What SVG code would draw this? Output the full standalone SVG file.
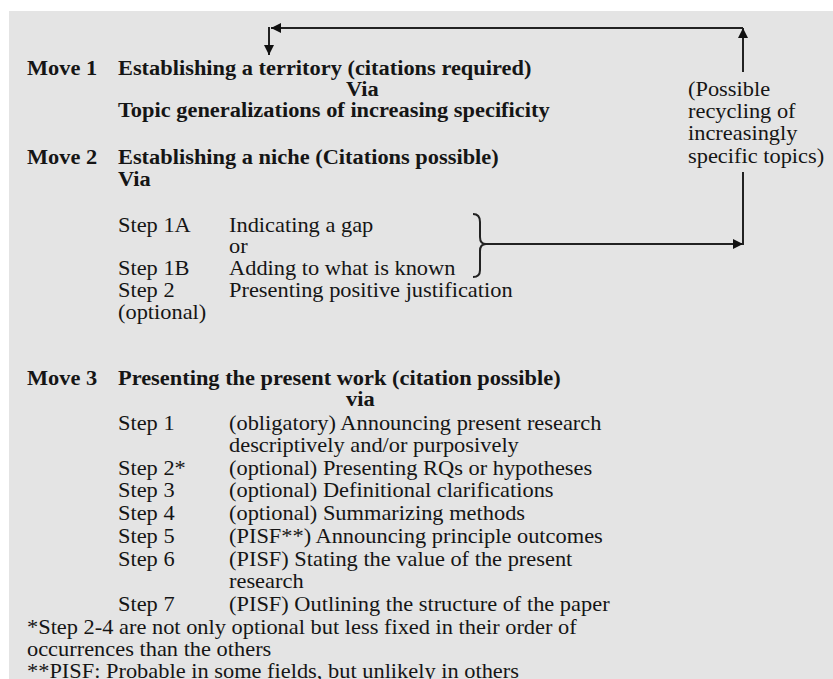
<svg xmlns="http://www.w3.org/2000/svg" width="833" height="679" viewBox="0 0 833 679">
<defs>
<style>
text{font-family:"Liberation Serif","Times New Roman",serif;font-size:21px;fill:#151515}
.b{font-weight:bold}
.ln{stroke:#222;stroke-width:2;fill:none}
</style>
<marker id="a2" viewBox="0 0 10 10" refX="10" refY="5" markerWidth="12" markerHeight="10" orient="auto" markerUnits="userSpaceOnUse">
<path d="M0,0 L10,5 L0,10 z" fill="#111"/>
</marker>
</defs>
<rect x="0" y="0" width="833" height="679" fill="#ffffff"/>
<rect x="9" y="11" width="824" height="668" fill="#e4e4e4"/>

<g id="connectors">
<line class="ln" x1="743" y1="72" x2="743" y2="28" marker-end="url(#a2)"/>
<line class="ln" x1="743" y1="28" x2="271" y2="28" marker-end="url(#a2)"/>
<line class="ln" x1="269" y1="27" x2="269" y2="55" marker-end="url(#a2)"/>
<path class="ln" d="M473,214 Q480,214 480,222 L480,237 Q480,244 486,244 Q480,244 480,251 L480,270 Q480,277 473,277" stroke-width="1.6"/>
<line class="ln" x1="486" y1="244" x2="743" y2="244" marker-end="url(#a2)"/>
<line class="ln" x1="743" y1="172" x2="743" y2="245"/>
</g>

<g transform="scale(1.0667,1)">
<g id="move1">
<text class="b" x="25.3" y="75">Move 1</text>
<text class="b" x="110.6" y="75">Establishing a territory (citations required)</text>
<text class="b" x="324.4" y="96">Via</text>
<text class="b" x="110.6" y="117">Topic generalizations of increasing specificity</text>
</g>

<g id="recycling-note">
<text x="645" y="96">(Possible</text>
<text x="645" y="118">recycling of</text>
<text x="645" y="140">increasingly</text>
<text x="645" y="163">specific topics)</text>
</g>

<g id="move2">
<text class="b" x="25.3" y="164">Move 2</text>
<text class="b" x="110.6" y="164">Establishing a niche (Citations possible)</text>
<text class="b" x="110.6" y="186">Via</text>
<text x="110.6" y="232">Step 1A</text>
<text x="214.7" y="232">Indicating a gap</text>
<text x="214.7" y="253">or</text>
<text x="110.6" y="275">Step 1B</text>
<text x="214.7" y="275">Adding to what is known</text>
<text x="110.6" y="297">Step 2</text>
<text x="214.7" y="297">Presenting positive justification</text>
<text x="110.6" y="319">(optional)</text>
</g>

<g id="move3">
<text class="b" x="25.3" y="385">Move 3</text>
<text class="b" x="110.6" y="385">Presenting the present work (citation possible)</text>
<text class="b" x="324.4" y="406">via</text>
<text x="110.6" y="430">Step 1</text>
<text x="214.7" y="430">(obligatory) Announcing present research</text>
<text x="214.7" y="452">descriptively and/or purposively</text>
<text x="110.6" y="475">Step 2*</text>
<text x="214.7" y="475">(optional) Presenting RQs or hypotheses</text>
<text x="110.6" y="497">Step 3</text>
<text x="214.7" y="497">(optional) Definitional clarifications</text>
<text x="110.6" y="520">Step 4</text>
<text x="214.7" y="520">(optional) Summarizing methods</text>
<text x="110.6" y="543">Step 5</text>
<text x="214.7" y="543">(PISF**) Announcing principle outcomes</text>
<text x="110.6" y="566">Step 6</text>
<text x="214.7" y="566">(PISF) Stating the value of the present</text>
<text x="214.7" y="588">research</text>
<text x="110.6" y="611">Step 7</text>
<text x="214.7" y="611">(PISF) Outlining the structure of the paper</text>
</g>

<g id="footnotes">
<text x="25.3" y="634">*Step 2-4 are not only optional but less fixed in their order of</text>
<text x="25.3" y="656">occurrences than the others</text>
<text x="25.3" y="678">**PISF: Probable in some fields, but unlikely in others</text>
</g>
</g>
</svg>
